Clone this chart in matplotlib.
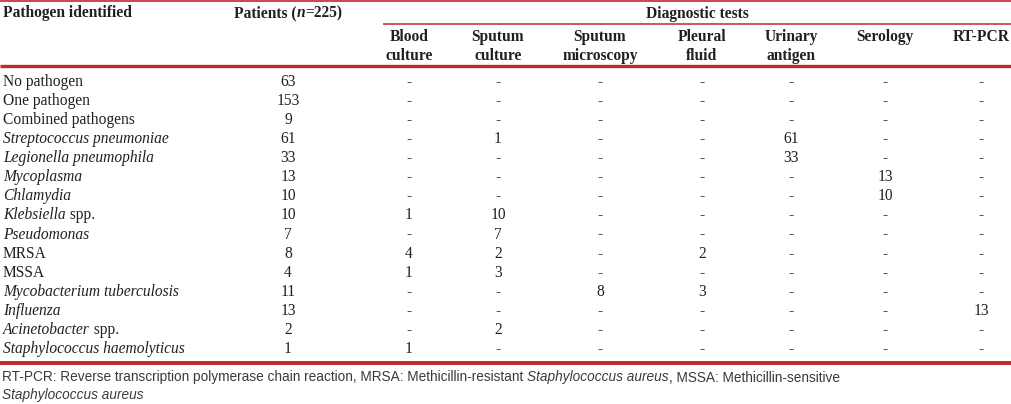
import matplotlib
matplotlib.use('Agg')
import matplotlib.pyplot as plt

# 表格数据
pathogens = ['No pathogen', 'One pathogen', 'Combined pathogens',
             'Streptococcus pneumoniae', 'Legionella pneumophila', 'Mycoplasma',
             'Chlamydia', 'Klebsiella spp.', 'Pseudomonas', 'MRSA', 'MSSA',
             'Mycobacterium tuberculosis', 'Influenza', 'Acinetobacter spp.',
             'Staphylococcus haemolyticus']
italic_rows = [3, 4, 5, 6, 7, 8, 11, 12, 13, 14]
patients = ['63', '153', '9', '61', '33', '13', '10', '10', '7', '8', '4', '11', '13', '2', '1']

blood_culture = ['-', '-', '-', '-', '-', '-', '-', '1', '-', '4', '1', '-', '-', '-', '1']
sputum_culture = ['-', '-', '-', '1', '-', '-', '-', '10', '7', '2', '3', '-', '-', '2', '-']
sputum_microscopy = ['-', '-', '-', '-', '-', '-', '-', '-', '-', '-', '-', '8', '-', '-', '-']
pleural_fluid = ['-', '-', '-', '-', '-', '-', '-', '-', '-', '2', '-', '3', '-', '-', '-']
urinary_antigen = ['-', '-', '-', '61', '33', '-', '-', '-', '-', '-', '-', '-', '-', '-', '-']
serology = ['-', '-', '-', '-', '-', '13', '10', '-', '-', '-', '-', '-', '-', '-', '-']
rt_pcr = ['-', '-', '-', '-', '-', '-', '-', '-', '-', '-', '-', '-', '13', '-', '-']

test_headers = ['Blood\nculture', 'Sputum\nculture', 'Sputum\nmicroscopy', 'Pleural\nfluid',
                'Urinary\nantigen', 'Serology', 'RT-PCR']
test_columns = [blood_culture, sputum_culture, sputum_microscopy, pleural_fluid,
                urinary_antigen, serology, rt_pcr]

# 版式
RED = '#c1272d'
INK = '#231f20'
SERIF = ['Liberation Serif', 'DejaVu Serif']
FS = 11.2
col_x = [409, 498, 600, 702, 791, 885, 981]
pat_x = 288
row_y0, row_dy = 86, 19.07

fig = plt.figure(figsize=(10.11, 4.04), dpi=100)
ax = fig.add_axes([0, 0, 1, 1])
ax.set_xlim(0, 1011)
ax.set_ylim(404, 0)
ax.axis('off')
renderer = fig.canvas.get_renderer()


def txt(x, y, s, **kw):
    kw.setdefault('fontsize', FS)
    kw.setdefault('family', SERIF)
    kw.setdefault('color', INK)
    kw.setdefault('va', 'baseline')
    return ax.text(x, y, s, **kw)


def run(x, y, parts, center=False, **kw):
    """按段落依次排版（支持斜体片段）"""
    items = [txt(x, y, s, style=st, **kw) for s, st in parts]
    widths = [t.get_window_extent(renderer).width for t in items]
    if center:
        x = x - sum(widths) / 2
    for t, w in zip(items, widths):
        t.set_x(x)
        x += w


# 表头
ax.plot([0, 1011], [0.8, 0.8], color=RED, lw=1.2, solid_capstyle='butt')
txt(3, 17, 'Pathogen identified', weight='bold')
run(pat_x, 17, [('Patients (', 'normal'), ('n', 'italic'), ('=225)', 'normal')], center=True, weight='bold')
txt(697, 17.5, 'Diagnostic tests', weight='bold', ha='center')
ax.plot([383, 1011], [23.5, 23.5], color=RED, lw=1.1, solid_capstyle='butt')
for x, h in zip(col_x, test_headers):
    for k, s in enumerate(h.split('\n')):
        txt(x, 41 + 19 * k, s, weight='bold', ha='center')
ax.plot([0, 1011], [66.3, 66.3], color=RED, lw=2.4, solid_capstyle='butt')

# 数据行
for i, name in enumerate(pathogens):
    y = row_y0 + i * row_dy
    if i in italic_rows:
        if name.endswith(' spp.'):
            run(3, y, [(name[:-5], 'italic'), (' spp.', 'normal')])
        else:
            txt(3, y, name, style='italic')
    else:
        txt(3, y, name)
    txt(pat_x, y, patients[i], ha='center')
    for x, col in zip(col_x, test_columns):
        txt(x, y, col[i], ha='center')

ax.plot([0, 1011], [362.5, 362.5], color=RED, lw=2.8, solid_capstyle='butt')

# 脚注
FOOT = ['Liberation Sans', 'DejaVu Sans']
FFS = 9.8
GREY = '#3a3a3a'
run(2, 381.5, [('RT-PCR: Reverse transcription polymerase chain reaction, MRSA: Methicillin-resistant ', 'normal'),
               ('Staphylococcus aureus', 'italic'),
               (', MSSA: Methicillin-sensitive', 'normal')],
    fontsize=FFS, family=FOOT, color=GREY)
txt(2, 399, 'Staphylococcus aureus', fontsize=FFS, family=FOOT, style='italic', color=GREY)

fig.savefig('out.png', dpi=100)
